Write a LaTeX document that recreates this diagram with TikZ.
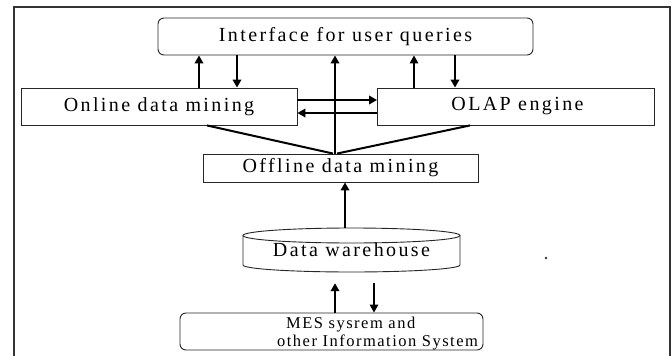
\documentclass[tikz,border=0pt]{standalone}
\usepackage{fontspec}
\setmainfont{Liberation Serif}
\newfontfamily\spaced{Liberation Serif}[LetterSpace=12]
\newfontfamily\spacedsm{Liberation Serif}[LetterSpace=9]
\usetikzlibrary{arrows.meta}
\begin{document}
\begin{tikzpicture}[x=1pt,y=-1pt,
  box/.style={draw=black!85, line width=0.9pt, inner sep=0pt,
    font=\spaced\fontsize{20}{22}\selectfont},
  rbox/.style={box, rounded corners=6pt},
  arr/.style={line width=2.4pt, -{Triangle[length=8pt,width=8.5pt]}},
  arrthin/.style={line width=1.5pt, -{Triangle[length=8pt,width=8.5pt]}},
  plain/.style={line width=2pt}]
\useasboundingbox (0,0) rectangle (672,356);
\fill[white] (0,0) rectangle (672,356);
% frame
\draw[line width=1.6pt, black!80] (14,358) -- (14,7) -- (670,7) -- (670,358);
% nodes
\node[rbox, minimum width=375pt, minimum height=37pt] (iface) at (345.5,36.5) {Interface for user queries};
\node[box, minimum width=276pt, minimum height=37pt] (online) at (159,106.5) {Online data mining};
\node[box, minimum width=277pt, minimum height=37pt] (olap) at (516,106.5) {\hspace*{3pt}OLAP engine};
\node[box, minimum width=275pt, minimum height=28pt] (offline) at (340.5,168) {Offline data mining};
\node[inner sep=0pt, minimum width=217pt, minimum height=44pt,
  font=\spaced\fontsize{20}{22}\selectfont] (dw) at (351.5,250) {\raisebox{-2pt}{Data warehouse}};
\draw[draw=black!85, line width=0.9pt] (243,235.5) -- (243,265)
  arc[start angle=180, end angle=360, x radius=108.5pt, y radius=7pt] -- (460,235.5);
\draw[draw=black!85, line width=0.9pt] (351.5,235.5) ellipse [x radius=108.5pt, y radius=7.5pt];
\node[rbox, minimum width=303pt, minimum height=37pt] (mes) at (331.5,331.5) {};
\node[inner sep=0pt, anchor=west, align=left,
  font=\spacedsm\fontsize{16.5}{18}\selectfont] (mestext) at (277,333.5)
  {\hspace*{9pt}MES sysrem and\\other Information System};
% connectors
\draw[arr] (199,0 |- online.north) -- (199,0 |- iface.south);
\draw[arr] (237,0 |- iface.south) -- (237,0 |- online.north);
\draw[arr] (335,0 |- offline.north) -- (335,0 |- iface.south);
\draw[arrthin] (414,0 |- olap.north) -- (414,0 |- iface.south);
\draw[arr, line width=2pt] (455,0 |- iface.south) -- (455,0 |- olap.north);
\draw[arr, line width=2pt] (online.east |- 0,100) -- (olap.west |- 0,100);
\draw[arr, line width=2pt] (olap.west |- 0,113) -- (online.east |- 0,113);
\draw[plain] (207,0 |- online.south) -- (333,0 |- offline.north);
\draw[plain] (470,0 |- olap.south) -- (337,0 |- offline.north);
\draw[arr] (345,0 |- dw.north) -- (345,0 |- offline.south);
\draw[arr, shorten >=11pt] (335,0 |- mes.north) -- (335,0 |- dw.south);
\draw[arrthin, shorten <=11pt] (374,0 |- dw.south) -- (374,0 |- mes.north);
% stray dot
\fill[black!80] (546,258) circle[radius=1.3pt];
\end{tikzpicture}
\end{document}
